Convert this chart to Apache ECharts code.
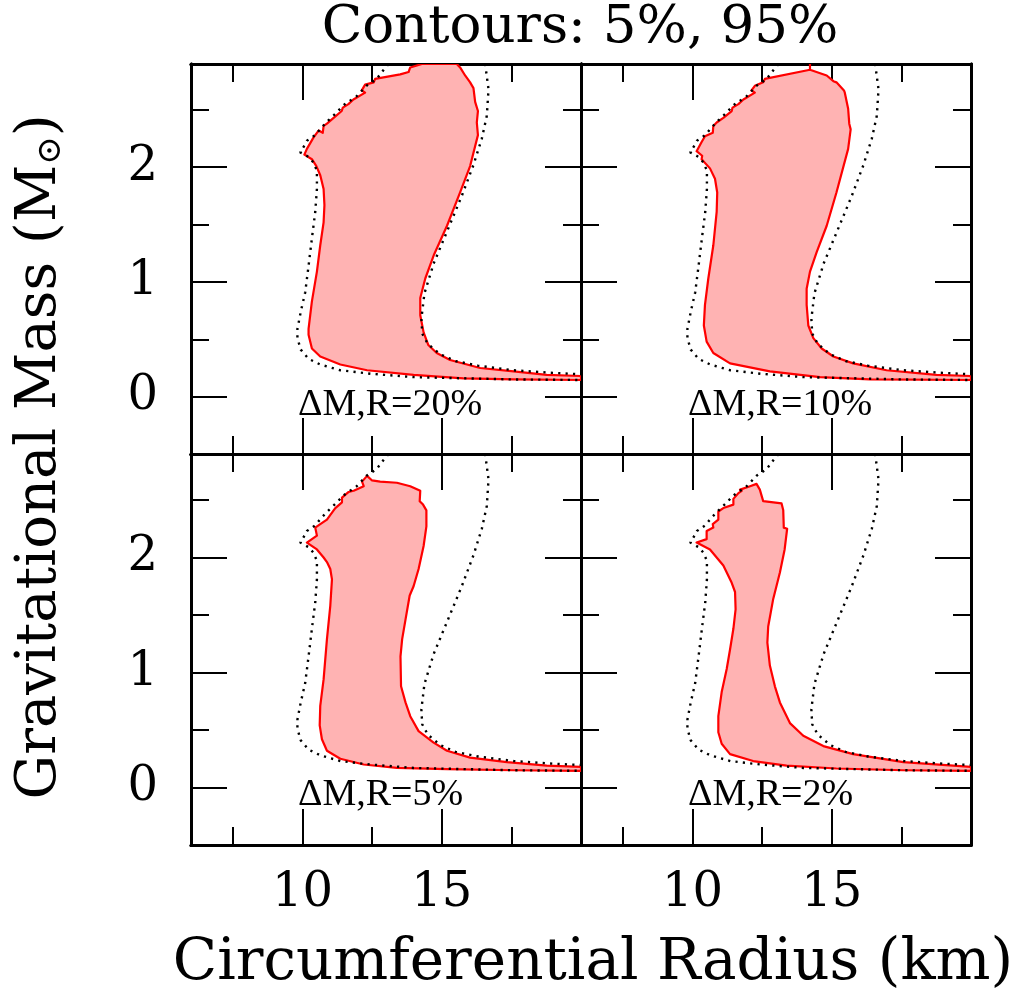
<!DOCTYPE html>
<html><head><meta charset="utf-8">
<script src="https://cdn.jsdelivr.net/npm/echarts@6/dist/echarts.min.js"></script>
<style>html,body{margin:0;padding:0;background:#fff}#c{width:1025px;height:994px}</style>
</head><body><div id="c"></div>
<script>
// ---- data ----
const xMajorTicks = [10, 15];
const xMinorTicks = [7.5, 12.5, 17.5];
const yMajorTicks = [0, 1, 2];
const yMinorTicks = [0.5, 1.5, 2.5];
const panelLabels = ['ΔM,R=20%', 'ΔM,R=10%', 'ΔM,R=5%', 'ΔM,R=2%'];

// dotted contour (same in every panel): left/lower branch and right/upper branch  [R km, M Msun]
const dottedLeft = [[13.09,2.90],[12.85,2.83],[12.67,2.77],[12.30,2.71],[11.95,2.62],[11.71,2.58],[11.47,2.54],[11.24,2.48],[10.94,2.41],[10.70,2.35],[10.46,2.28],[10.16,2.23],[10.10,2.20],[9.92,2.13],[10.22,2.09],[10.40,2.04],[10.52,1.97],[10.52,1.81],[10.46,1.61],[10.34,1.38],[10.22,1.14],[10.10,0.91],[9.94,0.74],[9.82,0.59],[9.82,0.51],[9.94,0.41],[10.22,0.33],[10.64,0.28],[11.36,0.23],[12.44,0.20],[13.99,0.17],[15.78,0.16],[17.58,0.15],[20.0,0.145]];
const dottedRight = [[16.56,2.90],[16.68,2.68],[16.62,2.45],[16.44,2.25],[16.14,2.02],[15.72,1.75],[15.19,1.44],[14.71,1.16],[14.38,0.90],[14.27,0.68],[14.30,0.55],[14.50,0.46],[14.94,0.37],[15.50,0.31],[16.30,0.27],[17.58,0.23],[18.80,0.21],[20.0,0.195]];

// red 5%-95% regions per panel [R km, M Msun]
const red20 = [[14.29,2.90],[13.87,2.87],[13.81,2.83],[13.51,2.81],[12.61,2.77],[12.56,2.74],[12.25,2.72],[12.13,2.67],[12.25,2.65],[11.83,2.59],[11.65,2.55],[11.45,2.52],[11.41,2.49],[11.12,2.43],[10.88,2.38],[10.76,2.36],[10.73,2.30],[10.58,2.32],[10.40,2.26],[10.16,2.16],[10.07,2.11],[10.34,2.07],[10.50,2.01],[10.64,1.93],[10.76,1.81],[10.79,1.67],[10.76,1.52],[10.64,1.32],[10.52,1.09],[10.34,0.83],[10.22,0.59],[10.22,0.54],[10.34,0.42],[10.64,0.35],[11.36,0.28],[12.32,0.23],[13.99,0.19],[15.78,0.16],[17.58,0.15],[20.0,0.145],[20.0,0.18],[18.77,0.19],[17.58,0.22],[16.38,0.25],[15.30,0.32],[14.82,0.38],[14.52,0.45],[14.35,0.56],[14.23,0.71],[14.23,0.86],[14.41,1.03],[14.71,1.23],[15.19,1.49],[15.66,1.78],[16.02,2.01],[16.30,2.28],[16.26,2.39],[16.30,2.49],[16.20,2.57],[16.14,2.69],[16.02,2.74],[15.84,2.80],[15.66,2.87],[15.54,2.90]];
const red10 = [[14.22,2.90],[14.22,2.85],[12.60,2.77],[12.54,2.74],[12.24,2.71],[12.12,2.67],[12.24,2.65],[11.83,2.59],[11.65,2.55],[11.44,2.52],[11.41,2.49],[11.11,2.43],[10.87,2.39],[10.75,2.36],[10.73,2.30],[10.45,2.27],[10.33,2.22],[10.15,2.14],[10.35,2.10],[10.33,2.07],[10.63,1.99],[10.81,1.90],[10.89,1.78],[10.87,1.61],[10.75,1.32],[10.57,1.03],[10.45,0.80],[10.41,0.62],[10.51,0.48],[10.75,0.38],[11.35,0.29],[12.78,0.22],[14.58,0.17],[16.37,0.15],[20.0,0.145],[20.0,0.18],[18.76,0.19],[16.97,0.23],[15.77,0.29],[15.06,0.35],[14.64,0.42],[14.34,0.51],[14.16,0.62],[14.10,0.80],[14.10,0.94],[14.22,1.09],[14.46,1.26],[14.82,1.49],[15.17,1.78],[15.59,2.16],[15.68,2.33],[15.63,2.38],[15.59,2.51],[15.53,2.58],[15.47,2.65],[15.44,2.67],[15.17,2.74],[15.06,2.75],[14.82,2.80],[14.22,2.85]];
const red5 = [[12.32,2.71],[12.50,2.67],[12.79,2.66],[13.39,2.65],[13.87,2.62],[14.23,2.58],[14.21,2.49],[14.33,2.46],[14.45,2.41],[14.45,2.27],[14.35,2.10],[14.17,1.90],[13.99,1.75],[13.85,1.67],[13.70,1.46],[13.58,1.29],[13.52,1.14],[13.54,0.88],[13.70,0.74],[13.87,0.62],[14.17,0.49],[14.71,0.39],[15.19,0.32],[16.02,0.26],[17.34,0.22],[18.77,0.19],[20.0,0.18],[20.0,0.145],[17.58,0.15],[15.19,0.16],[13.39,0.17],[12.20,0.20],[11.36,0.25],[10.88,0.32],[10.70,0.42],[10.62,0.54],[10.64,0.71],[10.76,0.94],[10.88,1.29],[11.00,1.58],[11.06,1.81],[11.00,1.90],[10.88,1.96],[10.76,2.00],[10.52,2.07],[10.16,2.13],[10.52,2.19],[10.46,2.26],[10.64,2.29],[10.88,2.33],[11.12,2.41],[11.18,2.43],[11.42,2.48],[11.42,2.52],[11.66,2.57],[11.84,2.58],[12.20,2.62],[12.14,2.66]];
const red2 = [[12.30,2.64],[12.42,2.59],[12.54,2.49],[13.20,2.47],[13.26,2.41],[13.28,2.26],[13.40,2.25],[13.31,2.07],[13.14,1.87],[12.90,1.64],[12.72,1.40],[12.69,1.26],[12.78,1.06],[12.96,0.88],[13.14,0.74],[13.50,0.56],[13.98,0.45],[14.70,0.36],[15.77,0.29],[17.57,0.22],[20.0,0.18],[20.0,0.145],[17.57,0.15],[15.17,0.165],[13.38,0.19],[12.18,0.23],[11.35,0.29],[11.05,0.38],[10.93,0.48],[10.93,0.62],[11.05,0.83],[11.23,1.03],[11.35,1.20],[11.47,1.38],[11.55,1.55],[11.53,1.70],[11.41,1.78],[11.11,1.93],[10.63,2.07],[10.15,2.13],[10.51,2.16],[10.51,2.23],[10.75,2.26],[10.73,2.29],[10.93,2.33],[10.93,2.40],[11.11,2.43],[11.47,2.46],[11.47,2.51],[11.65,2.56],[11.77,2.58],[11.71,2.59],[12.07,2.62]];
const redRegions = [red20, red10, red5, red2];

// ---- layout / style ----
const FONT = 'DejaVu Serif';
const gridBoxes = [[191,64,390,390],[581,64,390,390],[191,454,390,391],[581,454,390,391]];
const X_MIN = 6, X_MAX = 20, Y_MIN = -0.5, Y_MAX = 2.9;

const grids = [], xAxes = [], yAxes = [], series = [], graphics = [];
gridBoxes.forEach((b, gi) => {
  grids.push({left: b[0], top: b[1], width: b[2], height: b[3], containLabel: false});
  const showX = gi >= 2, showY = gi % 2 === 0;
  const lineStyle = {color: '#000', width: 3};
  const tickStyle = {color: '#000', width: 2};
  const mk = (pos, vals, len, labels, isX) => ({
    type: 'value', gridIndex: gi, position: pos,
    min: isX ? X_MIN : Y_MIN, max: isX ? X_MAX : Y_MAX,
    splitLine: {show: false},
    axisLine: {show: true, onZero: false, lineStyle},
    axisTick: {show: true, inside: true, length: len, customValues: vals, lineStyle: tickStyle},
    axisLabel: labels ? {show: true, customValues: vals, fontFamily: FONT, fontSize: 48, color: '#000',
                         margin: isX ? 25 : 33} : {show: false}
  });
  xAxes.push(mk('bottom', xMajorTicks, 36, showX, true));
  xAxes.push(mk('bottom', xMinorTicks, 18, false, true));
  xAxes.push(mk('top', xMajorTicks, 36, false, true));
  xAxes.push(mk('top', xMinorTicks, 18, false, true));
  yAxes.push(mk('left', yMajorTicks, 36, showY, false));
  yAxes.push(mk('left', yMinorTicks, 18, false, false));
  yAxes.push(mk('right', yMajorTicks, 36, false, false));
  yAxes.push(mk('right', yMinorTicks, 18, false, false));

  const region = redRegions[gi];
  series.push({
    type: 'custom', xAxisIndex: gi * 4, yAxisIndex: gi * 4, clip: true, z: 2,
    data: region,
    renderItem: (params, api) => {
      if (params.dataIndex !== 0) return null;
      const pts = region.map(p => api.coord(p));
      return {type: 'polygon', shape: {points: pts},
              style: {fill: '#ffb3b3', stroke: '#ff0000', lineWidth: 2.2, lineJoin: 'round'}};
    }
  });
  [dottedLeft, dottedRight].forEach(d => series.push({
    type: 'line', xAxisIndex: gi * 4, yAxisIndex: gi * 4, data: d, z: 3,
    symbol: 'none', showSymbol: false, clip: true, silent: true,
    lineStyle: {color: '#000', width: 2.4, type: [2.2, 5.2], cap: 'butt'}
  }));

  graphics.push({type: 'text', left: b[0] + 107, top: b[1] + 322,
    style: {text: panelLabels[gi], font: '38px "Liberation Serif"', fill: '#000'}});
});

graphics.push({type: 'text', x: 580, y: 28,
  style: {text: 'Contours: 5%, 95%', font: '53px "DejaVu Serif"', fill: '#000', textAlign: 'center', textVerticalAlign: 'middle'}});
graphics.push({type: 'text', x: 593, y: 964,
  style: {text: 'Circumferential Radius (km)', font: '58px "DejaVu Serif"', fill: '#000', textAlign: 'center', textVerticalAlign: 'middle'}});
graphics.push({type: 'text', x: 40, y: 457, rotation: Math.PI / 2,
  style: {text: 'Gravitational Mass (M{s|⊙})', font: '56px "DejaVu Serif"', fill: '#000', textAlign: 'center', textVerticalAlign: 'middle',
          rich: {s: {fontSize: 34, fontFamily: FONT, verticalAlign: 'bottom', padding: [22, 0, 0, 0]}}}});

const chart = echarts.init(document.getElementById('c'));
chart.setOption({
  animation: false,
  backgroundColor: '#fff',
  grid: grids, xAxis: xAxes, yAxis: yAxes, series, graphic: graphics
});
</script></body></html>
